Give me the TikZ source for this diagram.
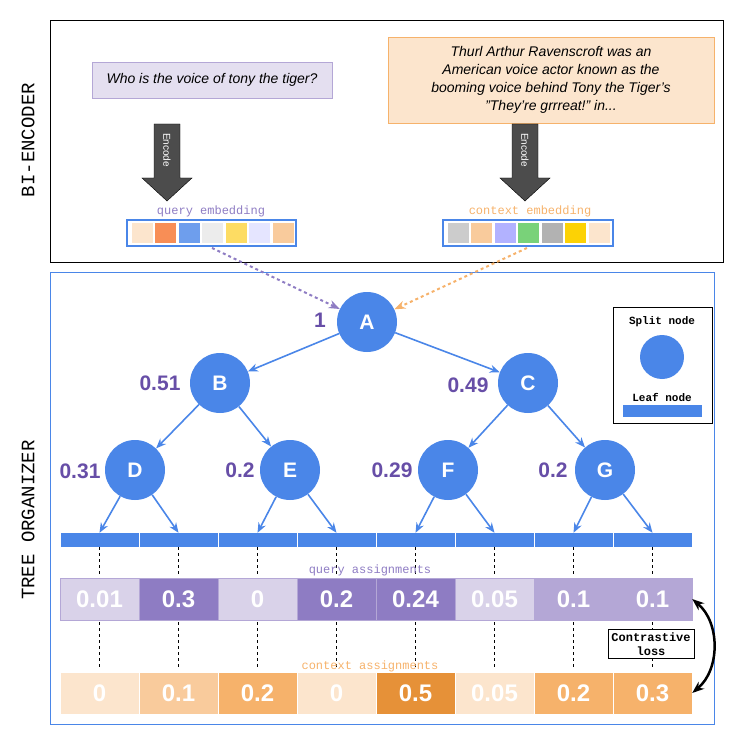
\documentclass[tikz,border=0pt]{standalone}
\usepackage{fontspec}
\setmainfont{Liberation Sans}
\newfontfamily\monof{Liberation Mono}
\usetikzlibrary{arrows.meta,positioning}
\definecolor{treeblue}{HTML}{4A86E8}
\definecolor{qpurple}{HTML}{674EA7}
\definecolor{qlight}{HTML}{D9D2E9}
\definecolor{qmid}{HTML}{B4A7D6}
\definecolor{qdark}{HTML}{8E7CC3}
\definecolor{clight}{HTML}{FCE5CD}
\definecolor{cmid}{HTML}{F9CB9C}
\definecolor{cdark}{HTML}{F6B26B}
\definecolor{cdeep}{HTML}{E69138}
\tikzset{
  split/.style={circle,fill=treeblue,minimum size=60pt,inner sep=0pt,text=white,font=\bfseries\fontsize{21}{21}\selectfont},
  weight/.style={text=qpurple,font=\bfseries\fontsize{21}{21}\selectfont},
  cell/.style={minimum width=79pt,minimum height=42pt,inner sep=0pt,text=white,font=\bfseries\fontsize{24}{24}\selectfont},
  edge/.style={treeblue,line width=1.6pt,-{Stealth[length=10pt,width=8pt]}},
  vdash/.style={black,dashed,thick}
}
\begin{document}
\begin{tikzpicture}[x=1pt,y=-1pt]
  \useasboundingbox (0,0) rectangle (750,751);
  % frames
  \draw[black,thick] (50,20) rectangle (723,262);
  \draw[treeblue,thick] (50,272) rectangle (714,724);
  \node[rotate=90,font=\monof\fontsize{19}{19}\selectfont] at (28,140) {BI-ENCODER};
  \node[rotate=90,font=\monof\fontsize{19}{19}\selectfont] at (28,520) {TREE ORGANIZER};

  % inputs
  \node[draw=qmid,fill=qlight!70,minimum width=240pt,minimum height=36pt,font=\itshape\fontsize{14}{16}\selectfont] (query) at (212,80) {Who is the voice of tony the tiger?};
  \node[draw=cdark,fill=clight,minimum width=326pt,minimum height=86pt,align=center,font=\itshape\fontsize{14}{18}\selectfont] (context) at (551,80) {Thurl Arthur Ravenscroft was an\\American voice actor known as the\\booming voice behind Tony the Tiger's\\"They're grrreat!" in...};

  % encode arrows
  \foreach \ex in {167,525}{
    \fill[gray!60!black,draw=black] (\ex-13,124)--(\ex+13,124)--(\ex+13,178)--(\ex+25,178)--(\ex,201)--(\ex-25,178)--(\ex-13,178)--cycle;
    \node[rotate=-90,text=white,font=\fontsize{10}{10}\selectfont] at (\ex,150) {Encode};
  }

  % embeddings
  \node[text=qdark,font=\monof\fontsize{12}{12}\selectfont] at (211,211) {query embedding};
  \node[text=cdark,font=\monof\fontsize{12}{12}\selectfont] at (530,211) {context embedding};
  \foreach \c [count=\i] in {clight,cdark!80!red,treeblue!80,gray!15,yellow!60!orange!60,blue!10,cmid}
    \fill[\c] (127+\i*23.5-19,223) rectangle ++(21,20);
  \foreach \c [count=\i] in {gray!40,cmid,blue!30,green!50!gray!70,gray!60,yellow!70!orange,clight}
    \fill[\c] (443+\i*23.5-19,223) rectangle ++(21,20);
  \draw[treeblue,very thick] (127,220) rectangle (296,246);
  \draw[treeblue,very thick] (443,220) rectangle (613,246);
  \coordinate (qemb) at (212,248);
  \coordinate (cemb) at (527,248);

  % tree
  \node[split] (A) at (367,322) {A};
  \node[split] (B) at (220,383) {B};
  \node[split] (C) at (528,383) {C};
  \node[split] (D) at (135,470) {D};
  \node[split] (E) at (290,470) {E};
  \node[split] (F) at (448,470) {F};
  \node[split] (G) at (605,470) {G};
  \node[weight] at (320,320) {1};
  \node[weight] at (160,383) {0.51};
  \node[weight] at (468,385) {0.49};
  \node[weight] at (80,471) {0.31};
  \node[weight] at (240,470) {0.2};
  \node[weight] at (392,470) {0.29};
  \node[weight] at (553,470) {0.2};
  \draw[qdark,dashed,line width=2pt,-{Stealth[length=11pt]}] (qemb) -- (A);
  \draw[cdark,dashed,line width=2pt,-{Stealth[length=11pt]}] (cemb) -- (A);
  \draw[edge] (A) -- (B);
  \draw[edge] (A) -- (C);
  \draw[edge] (B) -- (D);
  \draw[edge] (B) -- (E);
  \draw[edge] (C) -- (F);
  \draw[edge] (C) -- (G);

  % leaves and assignments
  \foreach \i in {1,...,8}{
    \node[fill=treeblue,minimum width=78pt,minimum height=14pt,inner sep=0pt] (leaf\i) at (20.5+\i*79,540) {};
    \draw[vdash] (leaf\i.south) -- ++(0,28);
    \draw[vdash] (20.5+\i*79,622) -- ++(0,46);
  }
  \foreach \p/\l/\r in {D/1/2,E/3/4,F/5/6,G/7/8}{
    \draw[edge] (\p) -- (leaf\l.north);
    \draw[edge] (\p) -- (leaf\r.north);
  }
  \node[text=qdark,font=\monof\fontsize{12}{12}\selectfont] at (370,570) {query assignments};
  \node[text=cdark,font=\monof\fontsize{12}{12}\selectfont] at (370,666) {context assignments};
  \foreach \v/\c [count=\i] in {0.01/qlight,0.3/qdark,0/qlight,0.2/qdark,0.24/qdark,0.05/qlight,0.1/qmid,0.1/qmid}
    \node[cell,fill=\c,draw=qmid] (q\i) at (20.5+\i*79,599) {\v};
  \foreach \v/\c [count=\i] in {0/clight,0.1/cmid,0.2/cdark,0/clight,0.5/cdeep,0.05/clight,0.2/cdark,0.3/cdark}
    \node[cell,fill=\c,draw=white] (c\i) at (20.5+\i*79,693) {\v};

  % contrastive loss
  \draw[black,line width=2.5pt,{Stealth[length=12pt]}-{Stealth[length=12pt]}] (q8.east) to[bend left=50] (c8.east);
  \node[draw=black,thick,fill=white,align=center,font=\monof\bfseries\fontsize{12}{14}\selectfont] (loss) at (651,644) {Contrastive\\loss};

  % legend
  \draw[black] (613,307) rectangle (712,423);
  \node[font=\monof\bfseries\fontsize{11}{11}\selectfont] at (662,322) {Split node};
  \node[circle,fill=treeblue,minimum size=44pt] (legsplit) at (662,357) {};
  \node[font=\monof\bfseries\fontsize{11}{11}\selectfont] at (662,397) {Leaf node};
  \fill[treeblue] (623,405) rectangle (702,417);
\end{tikzpicture}
\end{document}
